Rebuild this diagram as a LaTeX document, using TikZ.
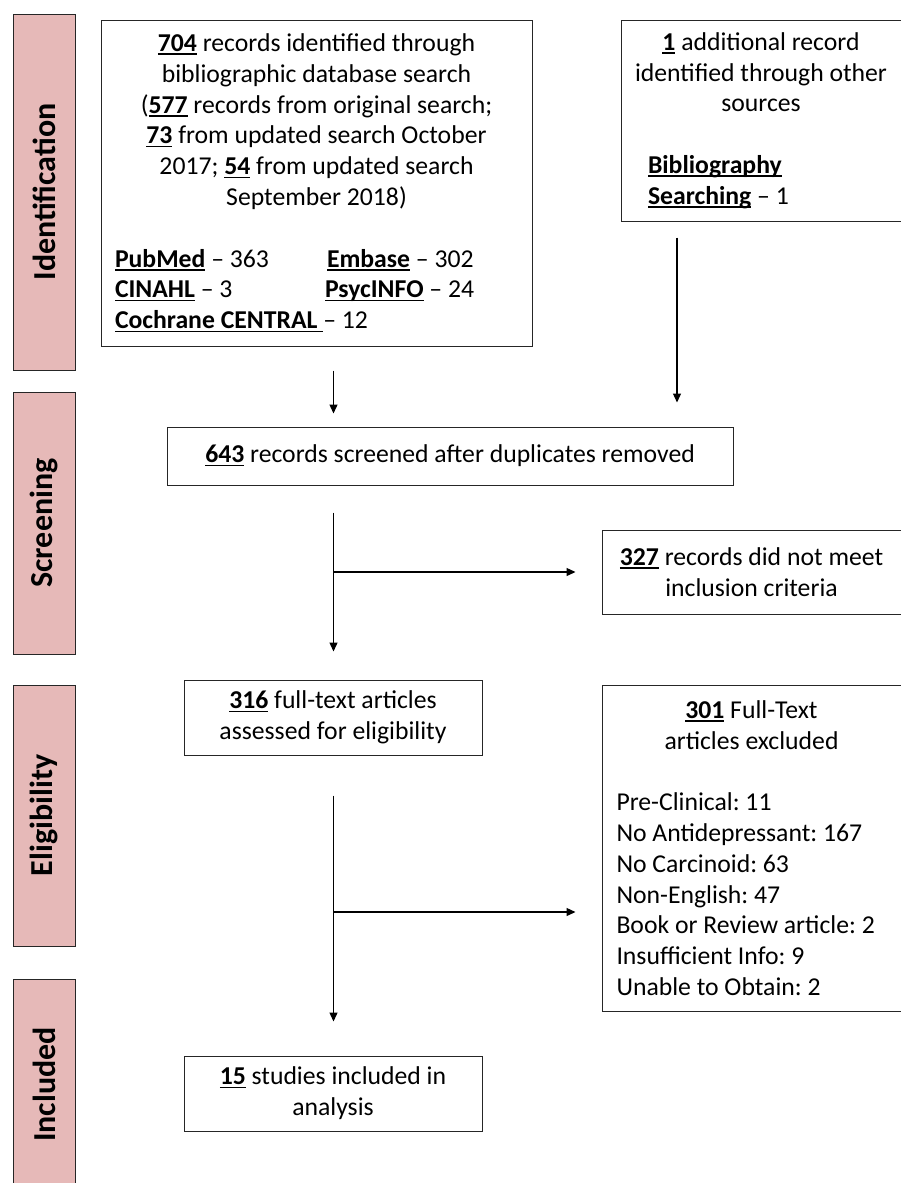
\documentclass[tikz,border=0pt]{standalone}
\usepackage{fontspec}
\setmainfont{Carlito}
\usetikzlibrary{arrows.meta}
\definecolor{barpink}{HTML}{E6B9B8}
\newcommand\undl[1]{\leavevmode\setbox0\hbox{#1}\rlap{\rule[-3.5pt]{\wd0}{1.7pt}}\box0\relax}
\frenchspacing

\begin{document}
\begin{tikzpicture}[x=1pt, y=-1pt, every node/.style={font=\fontsize{25.7}{30.8}\selectfont}, >={Triangle[length=9pt,width=8pt]}]
	\tikzset{box/.style={draw=black!85, line width=1pt, inner sep=0pt, align=flush center},
		bar/.style={draw=black!85, fill=barpink, line width=1pt, rotate=90, font=\fontsize{32}{38}\selectfont\bfseries},
		arr/.style={->, line width=1.3pt}}
	\useasboundingbox (0,0) rectangle (900,1183);
	% stage bars
	\node[bar, minimum width=356pt, minimum height=62pt] (idbar) at (44,192) {Identification};
	\node[bar, minimum width=262pt, minimum height=62pt] (scbar) at (44,523) {Screening};
	\node[bar, minimum width=261pt, minimum height=62pt] (elbar) at (44,815.5) {Eligibility};
	\node[bar, minimum width=211pt, minimum height=62pt] (inbar) at (44,1084.5) {Included};
	% boxes
	\node[box, minimum width=431pt, minimum height=326pt, text width=403pt] (recs) at (316.5,183) {\undl{\textbf{704}} records identified through\\ bibliographic database search\\ (\undl{\textbf{577}} records from original search;\\ \undl{\textbf{73}} from updated search October\\ 2017; \undl{\textbf{54}} from updated search\\ September 2018)\\[30.8pt]
		\makebox[403pt][l]{\makebox[212pt][l]{\undl{\textbf{PubMed}} – 363}\undl{\textbf{Embase}} – 302}\\
		\makebox[403pt][l]{\makebox[210pt][l]{\undl{\textbf{CINAHL}} – 3}\undl{\textbf{PsycINFO}} – 24}\\
		\makebox[403pt][l]{\undl{\textbf{Cochrane CENTRAL }}– 12}};
	\node[box, minimum width=280pt, minimum height=201pt, text width=262pt] (other) at (761,120.5) {\undl{\textbf{1}} additional record\\ identified through other\\ sources\\[30.8pt]
		\makebox[262pt][l]{\hspace*{18pt}\undl{\textbf{Bibliography}}}\\
		\makebox[262pt][l]{\hspace*{18pt}\undl{\textbf{Searching}} – 1}};
	\node[box, minimum width=566pt, minimum height=58pt] (screen) at (450,456) {\undl{\textbf{643}} records screened after duplicates removed};
	\node[box, minimum width=299pt, minimum height=84pt] (notmet) at (751.5,572) {\undl{\textbf{327}} records did not meet\\ inclusion criteria};
	\node[box, minimum width=298pt, minimum height=75pt] (fulltext) at (333,717.5) {\undl{\textbf{316}} full-text articles\\ assessed for eligibility};
	\node[box, minimum width=299pt, minimum height=326pt, text width=270pt] (excluded) at (751.5,848) {\undl{\textbf{301}} Full-Text\\ articles excluded\\[30.8pt]
		\makebox[270pt][l]{Pre-Clinical: 11}\\
		\makebox[270pt][l]{No Antidepressant: 167}\\
		\makebox[270pt][l]{No Carcinoid: 63}\\
		\makebox[270pt][l]{Non-English: 47}\\
		\makebox[270pt][l]{Book or Review article: 2}\\
		\makebox[270pt][l]{Insufficient Info: 9}\\
		\makebox[270pt][l]{Unable to Obtain: 2}};
	\node[box, minimum width=298pt, minimum height=75pt] (included) at (333,1093.5) {\undl{\textbf{15}} studies included in\\ analysis};
	% connectors
	\coordinate (spine) at (333.5,0);
	\coordinate (side) at (677,0);
	\coordinate (branch) at (0,912);
	\draw[arr, shorten <=24pt, shorten >=13pt] (recs.south -| spine) -- (screen.north -| spine);
	\draw[arr, shorten <=16pt, shorten >=24pt] (other.south -| side) -- (screen.north -| side);
	\draw[arr, shorten <=27pt, shorten >=28pt] (screen.south -| spine) -- (fulltext.north -| spine);
	\draw[arr, shorten >=26pt] (spine |- notmet.west) -- (notmet.west);
	\draw[arr, shorten <=40pt, shorten >=34pt] (fulltext.south -| spine) -- (included.north -| spine);
	\draw[arr, shorten >=26pt] (spine |- branch) -- (excluded.west |- branch);
\end{tikzpicture}
\end{document}
